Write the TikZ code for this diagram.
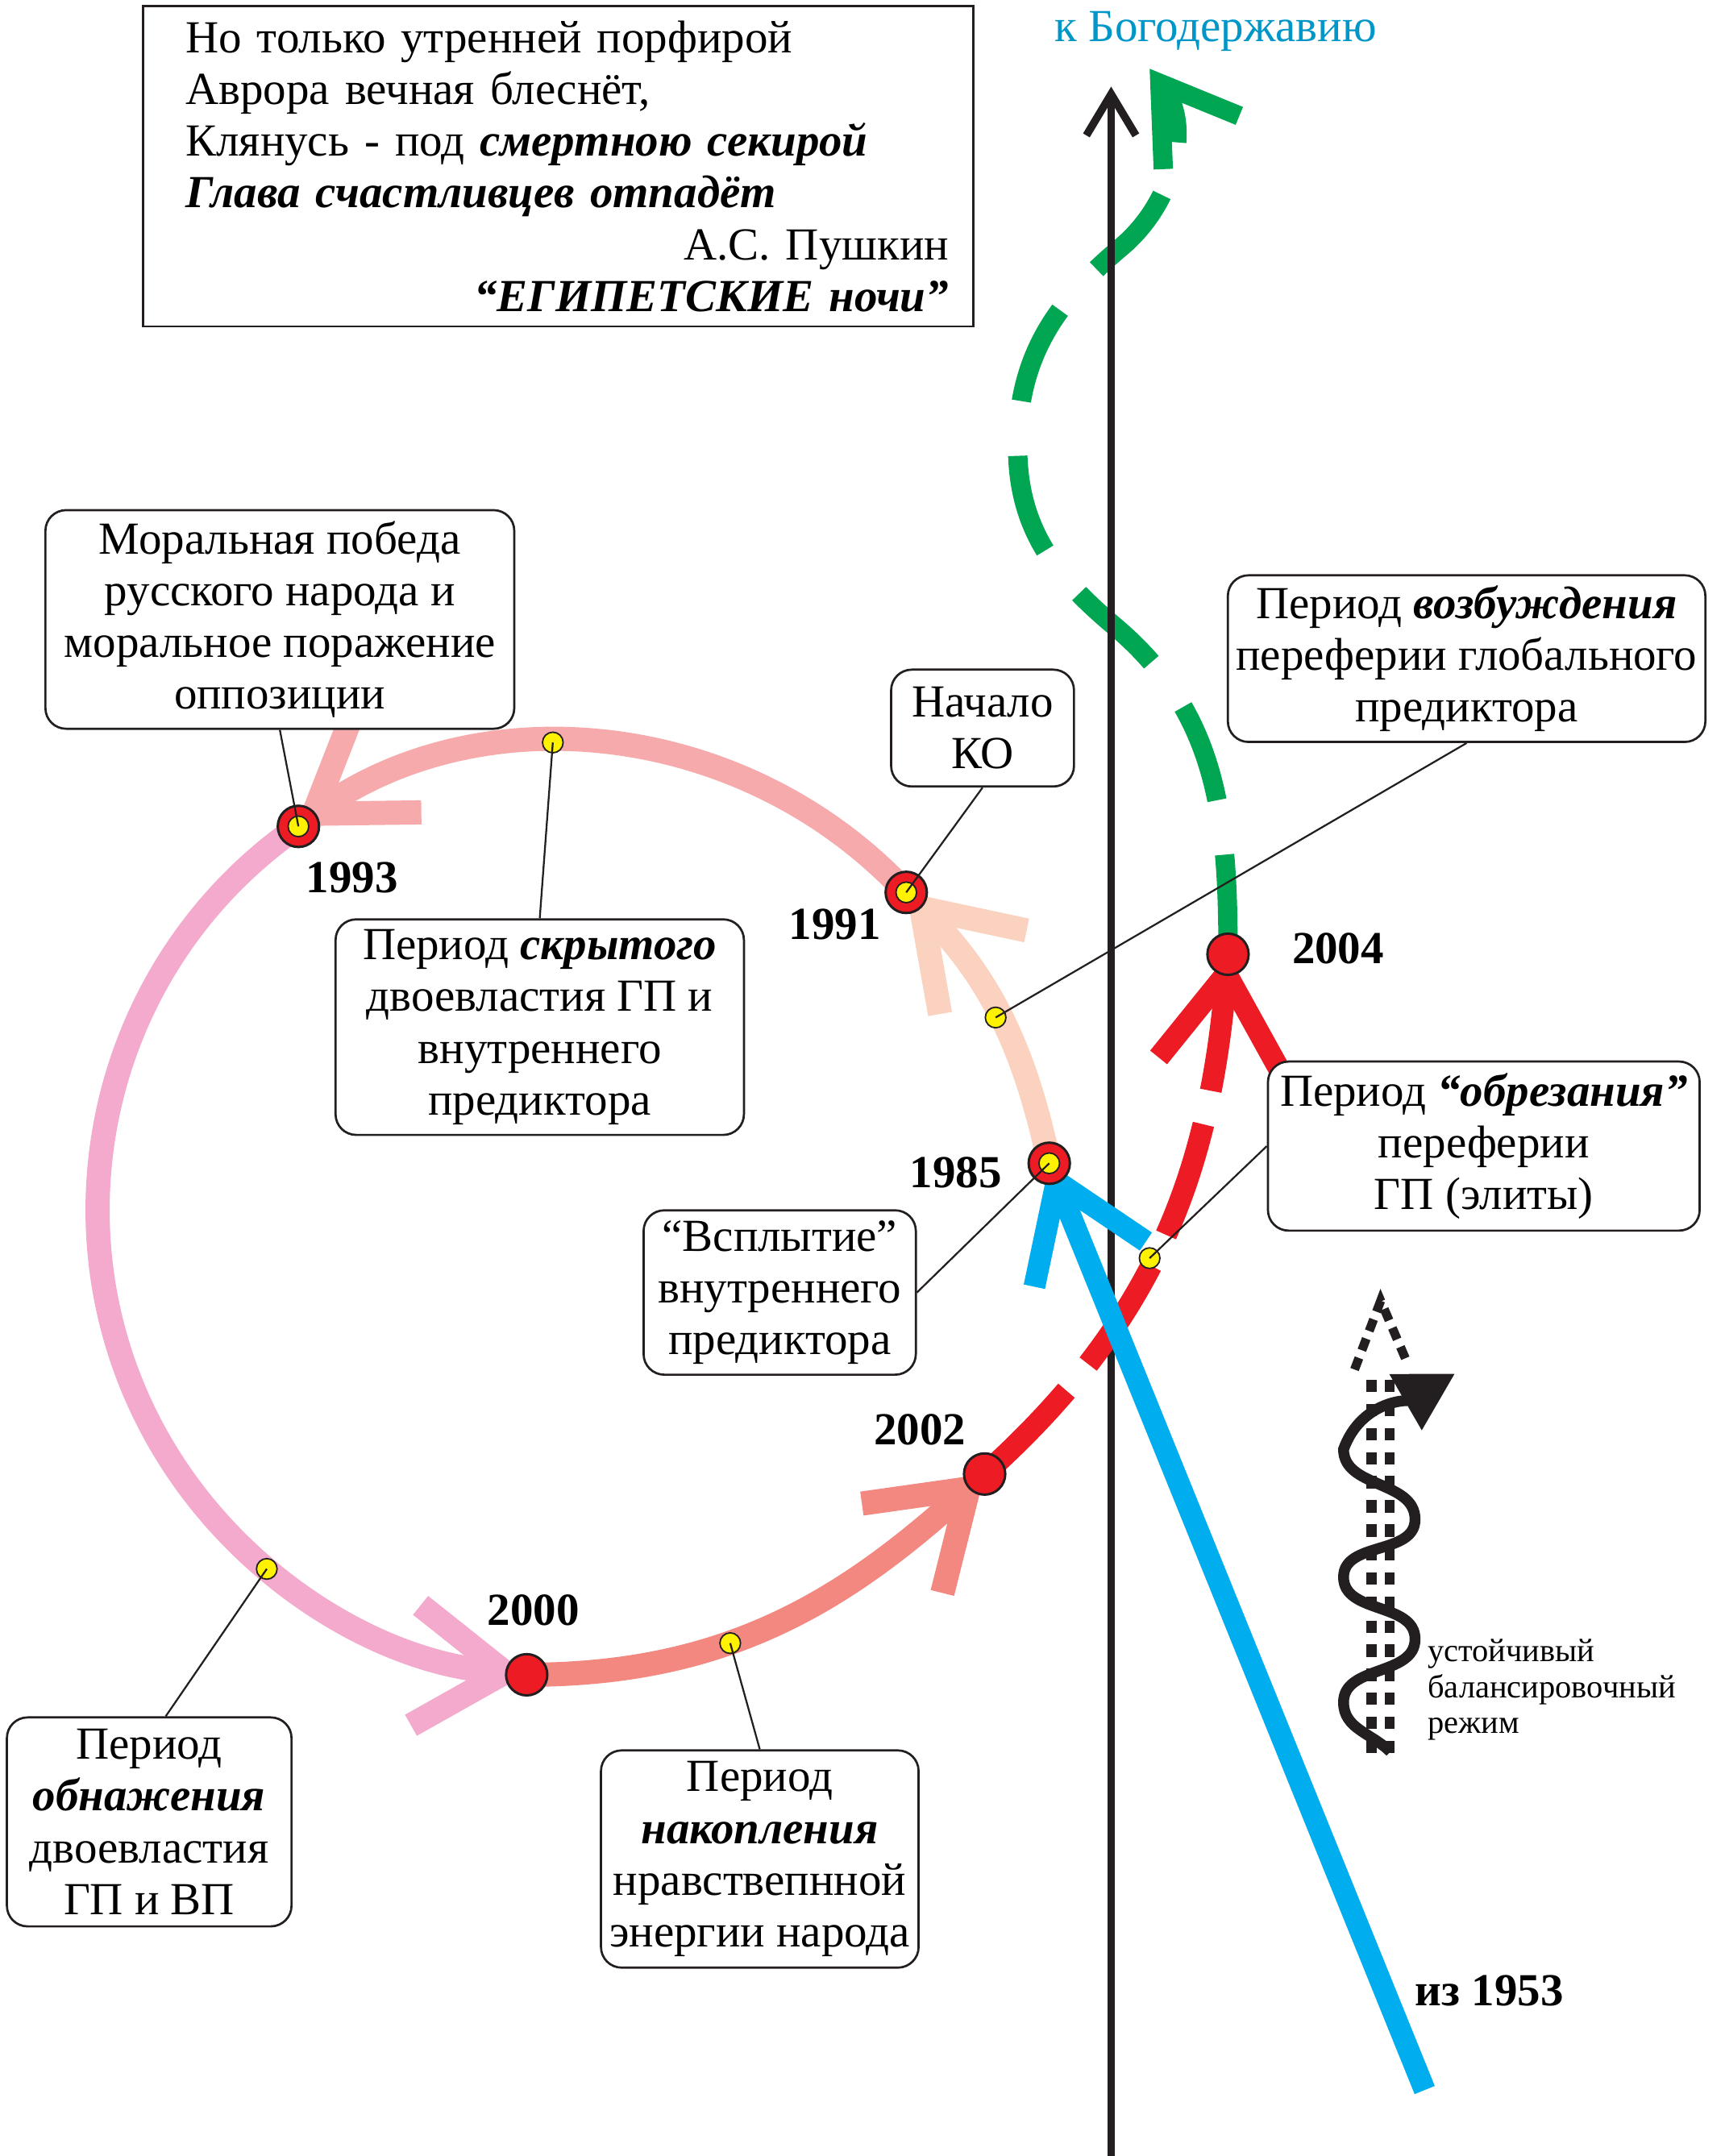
\documentclass[tikz,border=0pt]{standalone}
\usepackage{fontspec}
\setmainfont{Liberation Serif}
\usetikzlibrary{arrows.meta, backgrounds}

\definecolor{axisblack}{RGB}{35,31,32}
\definecolor{ringred}{RGB}{237,28,36}
\definecolor{dotyellow}{RGB}{255,242,0}
\definecolor{peach}{RGB}{251,210,192}
\definecolor{rose}{RGB}{246,170,172}
\definecolor{pinkish}{RGB}{244,170,204}
\definecolor{salmon}{RGB}{243,136,129}
\definecolor{godgreen}{RGB}{0,166,81}
\definecolor{skyblue}{RGB}{0,174,239}
\definecolor{tealtext}{RGB}{0,150,200}

\newcommand{\bfit}[1]{\textbf{\textit{#1}}}

\begin{document}
\begin{tikzpicture}[
  x=0.02cm, y=0.02cm,
  every node/.style = {font=\fontsize{19}{21.4}\selectfont},
  poembox/.style = {rectangle, draw=axisblack, line width=0.9pt, minimum width=12.08cm,
                    minimum height=4.66cm, text width=11.36cm, align=left, inner sep=0pt},
  callout/.style = {rectangle, rounded corners=0.3cm, draw=axisblack, line width=0.9pt,
                    fill=white, align=center, inner xsep=0.12cm, inner ysep=0.15cm},
  ring/.style    = {circle, draw=axisblack, line width=1pt, fill=ringred,
                    minimum size=0.6cm, inner sep=0pt},
  dot/.style     = {circle, draw=axisblack, line width=0.6pt, fill=dotyellow,
                    minimum size=0.3cm, inner sep=0pt},
  year/.style    = {font=\fontsize{19}{21.4}\selectfont\bfseries},
  lead/.style    = {line width=0.75pt, draw=axisblack},
  band/.style    = {line width=10pt, -{Straight Barb[sharp, length=1.3cm, width=1.75cm]}},
  dotted col/.style = {axisblack, line width=0.15cm, dash pattern=on 0.18cm off 0.17cm},
]
  \path[use as bounding box] (0,0) rectangle (1254,-1568);

  \node[poembox] (poem) at (406,-121) {\leftskip=0.26cm Но только утренней порфирой\\
    Аврора вечная блеснёт,\\
    Клянусь - под \bfit{смертною секирой}\\
    \bfit{Глава счастливцев отпадёт}\\
    \hspace*{\fill}А.С. Пушкин\\
    \hspace*{\fill}\bfit{“ЕГИПЕТСКИЕ ночи”}};
  \node[text=tealtext] (bog) at (884,-23) {к Богодержавию};

  \node[ring] (y1985) at (763,-846) {};
  \node[ring] (y1991) at (659,-649) {};
  \node[ring] (y1993) at (217,-601) {};
  \node[ring] (y2000) at (383,-1218) {};
  \node[ring] (y2002) at (716,-1072) {};
  \node[ring] (y2004) at (893,-694) {};
  \node[dot] (i1985) at (y1985) {};
  \node[dot] (i1991) at (y1991) {};
  \node[dot] (i1993) at (y1993) {};

  \node[dot] (d1) at (724,-740) {};
  \node[dot] (d2) at (402,-540) {};
  \node[dot] (d3) at (194,-1141) {};
  \node[dot] (d4) at (531,-1195) {};
  \node[dot] (d5) at (836,-915) {};

  \coordinate (gtop) at (836,-50);
  \coordinate (from1953) at (1036,-1520);
  \coordinate (axbot) at (808,-1568);
  \coordinate (axtop) at (808,-63);

  \node[year] (t1993) at (256,-638) {1993};
  \node[year] (t1991) at (607,-672) {1991};
  \node[year] (t1985) at (695,-853) {1985};
  \node[year] (t2004) at (973,-690) {2004};
  \node[year] (t2002) at (669,-1040) {2002};
  \node[year] (t2000) at (388,-1171) {2000};
  \node[year] (t1953) at (1083,-1448) {из 1953};

  \node[callout, minimum width=6.82cm, minimum height=3.18cm] (moral) at (203.5,-450.5)
    {Моральная победа\\русского народа и\\моральное поражение\\оппозиции};
  \node[callout, minimum width=2.66cm, minimum height=1.7cm] (nachalo) at (714.5,-529.5)
    {Начало\\КО};
  \node[callout, minimum width=6.86cm, minimum height=2.36cm] (vozb) at (1066.5,-479)
    {Период \bfit{возбуждения}\\переферии глобального\\предиктора};
  \node[callout, minimum width=5.94cm, minimum height=3.04cm] (skryt) at (392.5,-747)
    {Период \bfit{скрытого}\\двоевластия ГП и\\внутреннего\\предиктора};
  \node[callout, minimum width=6.28cm, minimum height=2.46cm] (obrez) at (1079,-833.5)
    {Период \bfit{“обрезания”}\\переферии\\ГП (элиты)};
  \node[callout, minimum width=3.96cm, minimum height=2.36cm] (vsplyt) at (567,-940)
    {“Всплытие”\\внутреннего\\предиктора};
  \node[callout, minimum width=4.14cm, minimum height=3.04cm] (obnazh) at (108.5,-1325)
    {Период\\\bfit{обнажения}\\двоевластия\\ГП и ВП};
  \node[callout, minimum width=4.62cm, minimum height=3.16cm] (nakopl) at (552.5,-1352)
    {Период\\\bfit{накопления}\\нравствепнной\\энергии народа};

  \draw[lead] (moral.south) -- (y1993.center);
  \draw[lead] (nachalo.south) -- (y1991.center);
  \draw[lead] (vozb.south) -- (d1.center);
  \draw[lead] (skryt.north) -- (d2.center);
  \draw[lead] (obrez.west) -- (d5.center);
  \draw[lead] (vsplyt.east) -- (y1985.center);
  \draw[lead] ([xshift=0.24cm]obnazh.north) -- (d3.center);
  \draw[lead] (nakopl.north) -- (d4.center);

  \draw[dotted col] (997.5,-1275) -- (997.5,-996);
  \draw[dotted col] (1010.5,-1275) -- (1010.5,-996);
  \draw[axisblack, line width=0.13cm, dash pattern=on 0.18cm off 0.12cm]
    (985,-996) -- (1004,-946) -- (1022,-988);
  \draw[axisblack, line width=4.5pt, -{Triangle[length=0.83cm, width=0.9cm]}]
    (1011,-1274) to[out=135,in=-90] (977,-1238) to[out=90,in=-90] (1029,-1192)
    to[out=90,in=-90] (977,-1147) to[out=90,in=-90] (1029,-1105)
    to[out=90,in=-90] (977,-1054) to[out=70,in=-150] (1058,-999);
  \node[font=\fontsize{13.5}{14.8}\selectfont, align=left, anchor=west] (regime) at (1032,-1229)
    {устойчивый\\балансировочный\\режим};

  \begin{scope}[on background layer]
    \fill[white] (0,0) rectangle (1254,-1568);
    \draw[band, godgreen, line width=8pt, dash pattern=on 1.45cm off 0.8cm,
          -{Straight Barb[sharp, length=1.05cm, width=1.35cm]}]
      (y2004.center) to[out=90,in=-40] (810,-455) to[out=140,in=-90] (740,-325)
      to[out=90,in=-140] (815,-180) to[out=40,in=-55] (gtop);
    \draw[axisblack, line width=3.2pt, -{Straight Barb[sharp, length=0.6cm, width=0.72cm]}]
      (axbot) -- (axtop);
    \draw[band, peach] (y1985.center) to[out=102,in=-46] (y1991.center);
    \draw[band, rose] (y1991.center) arc[start angle=42.9, end angle=124.7, radius=341];
    \draw[band, pinkish] (y1993.center) arc[start angle=124.7, end angle=265.4, radius=339];
    \draw[band, salmon] (y2000.center) to[out=0,in=222] (y2002.center);
    \draw[band, ringred, line width=9pt, dash pattern=on 1.7cm off 0.5cm]
      (y2002.center) to[out=42,in=-95] (y2004.center);
    \draw[band, skyblue, line width=9pt] (from1953) -- (y1985.center);
  \end{scope}
\end{tikzpicture}
\end{document}
